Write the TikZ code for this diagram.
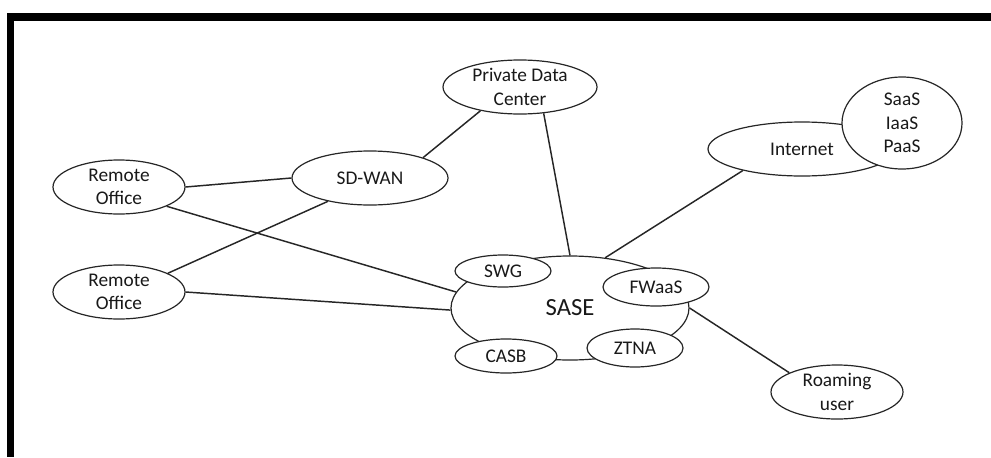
\documentclass[tikz,border=0pt]{standalone}
\usepackage{fontspec}
\setmainfont{Carlito}
\usetikzlibrary{shapes.geometric}
\begin{document}
\begin{tikzpicture}[x=0.75pt,y=-0.75pt,
  ell/.style 2 args={ellipse, draw=black!85, line width=0.9pt, fill=white, inner sep=0pt,
    minimum width={2*#1*0.75pt}, minimum height={2*#2*0.75pt}},
  lbl/.style={align=center, font=\fontsize{14.5}{17.5}\selectfont, text=black!90, inner sep=0pt},
  big/.style={align=center, font=\fontsize{18.5}{22}\selectfont, text=black!90, inner sep=0pt},
  conn/.style={draw=black!85, line width=1.1pt},
  frame/.style={fill=black}]
\useasboundingbox (0,0) rectangle (991,457);
% frame
\fill[frame] (6.5,12.5) rectangle (991,20.5);
\fill[frame] (6.5,12.5) rectangle (14,457);
% nodes
\node[ell={77}{27}, label={[lbl]center:Private Data\\Center}] (pdc) at (520,87) {};
\node[ell={94}{27}, label={[lbl]center:Internet}] (inet) at (802,149) {};
\node[ell={60}{46}, label={[lbl]center:SaaS\\IaaS\\PaaS}] (cloud) at (902,123) {};
\node[ell={66}{27}, label={[lbl]center:Remote\\Office}] (ro1) at (119,187) {};
\node[ell={66}{27}, label={[lbl]center:Remote\\Office}] (ro2) at (119,292) {};
\node[ell={78}{27}, label={[lbl]center:SD-WAN}] (sdwan) at (370,178) {};
\node[ell={119}{52}, label={[big]center:SASE}] (sase) at (570,308) {};
\node[ell={48}{16}, label={[lbl]center:SWG}] (swg) at (503,271) {};
\node[ell={53}{19}, label={[lbl]center:FWaaS}] (fwaas) at (656,287) {};
\node[ell={48}{19}, label={[lbl]center:ZTNA}] (ztna) at (635,348) {};
\node[ell={51}{17}, label={[lbl]center:CASB}] (casb) at (506,356) {};
\node[ell={66}{27}, label={[lbl]center:Roaming\\user}] (roam) at (837,392) {};
% connectors
\draw[conn] (ro1.east) -- (sdwan.west);
\draw[conn] (ro1.-22) -- (sase.172);
\draw[conn] (ro2.21) -- (sdwan.209);
\draw[conn] (ro2.east) -- (sase.181);
\draw[conn] (sdwan.21) -- (pdc.211);
\draw[conn] (pdc.-48) -- (sase.north);
\draw[conn] (sase.55) -- (inet.200);
\draw[conn] (sase.east) -- (roam.158);
\end{tikzpicture}
\end{document}
